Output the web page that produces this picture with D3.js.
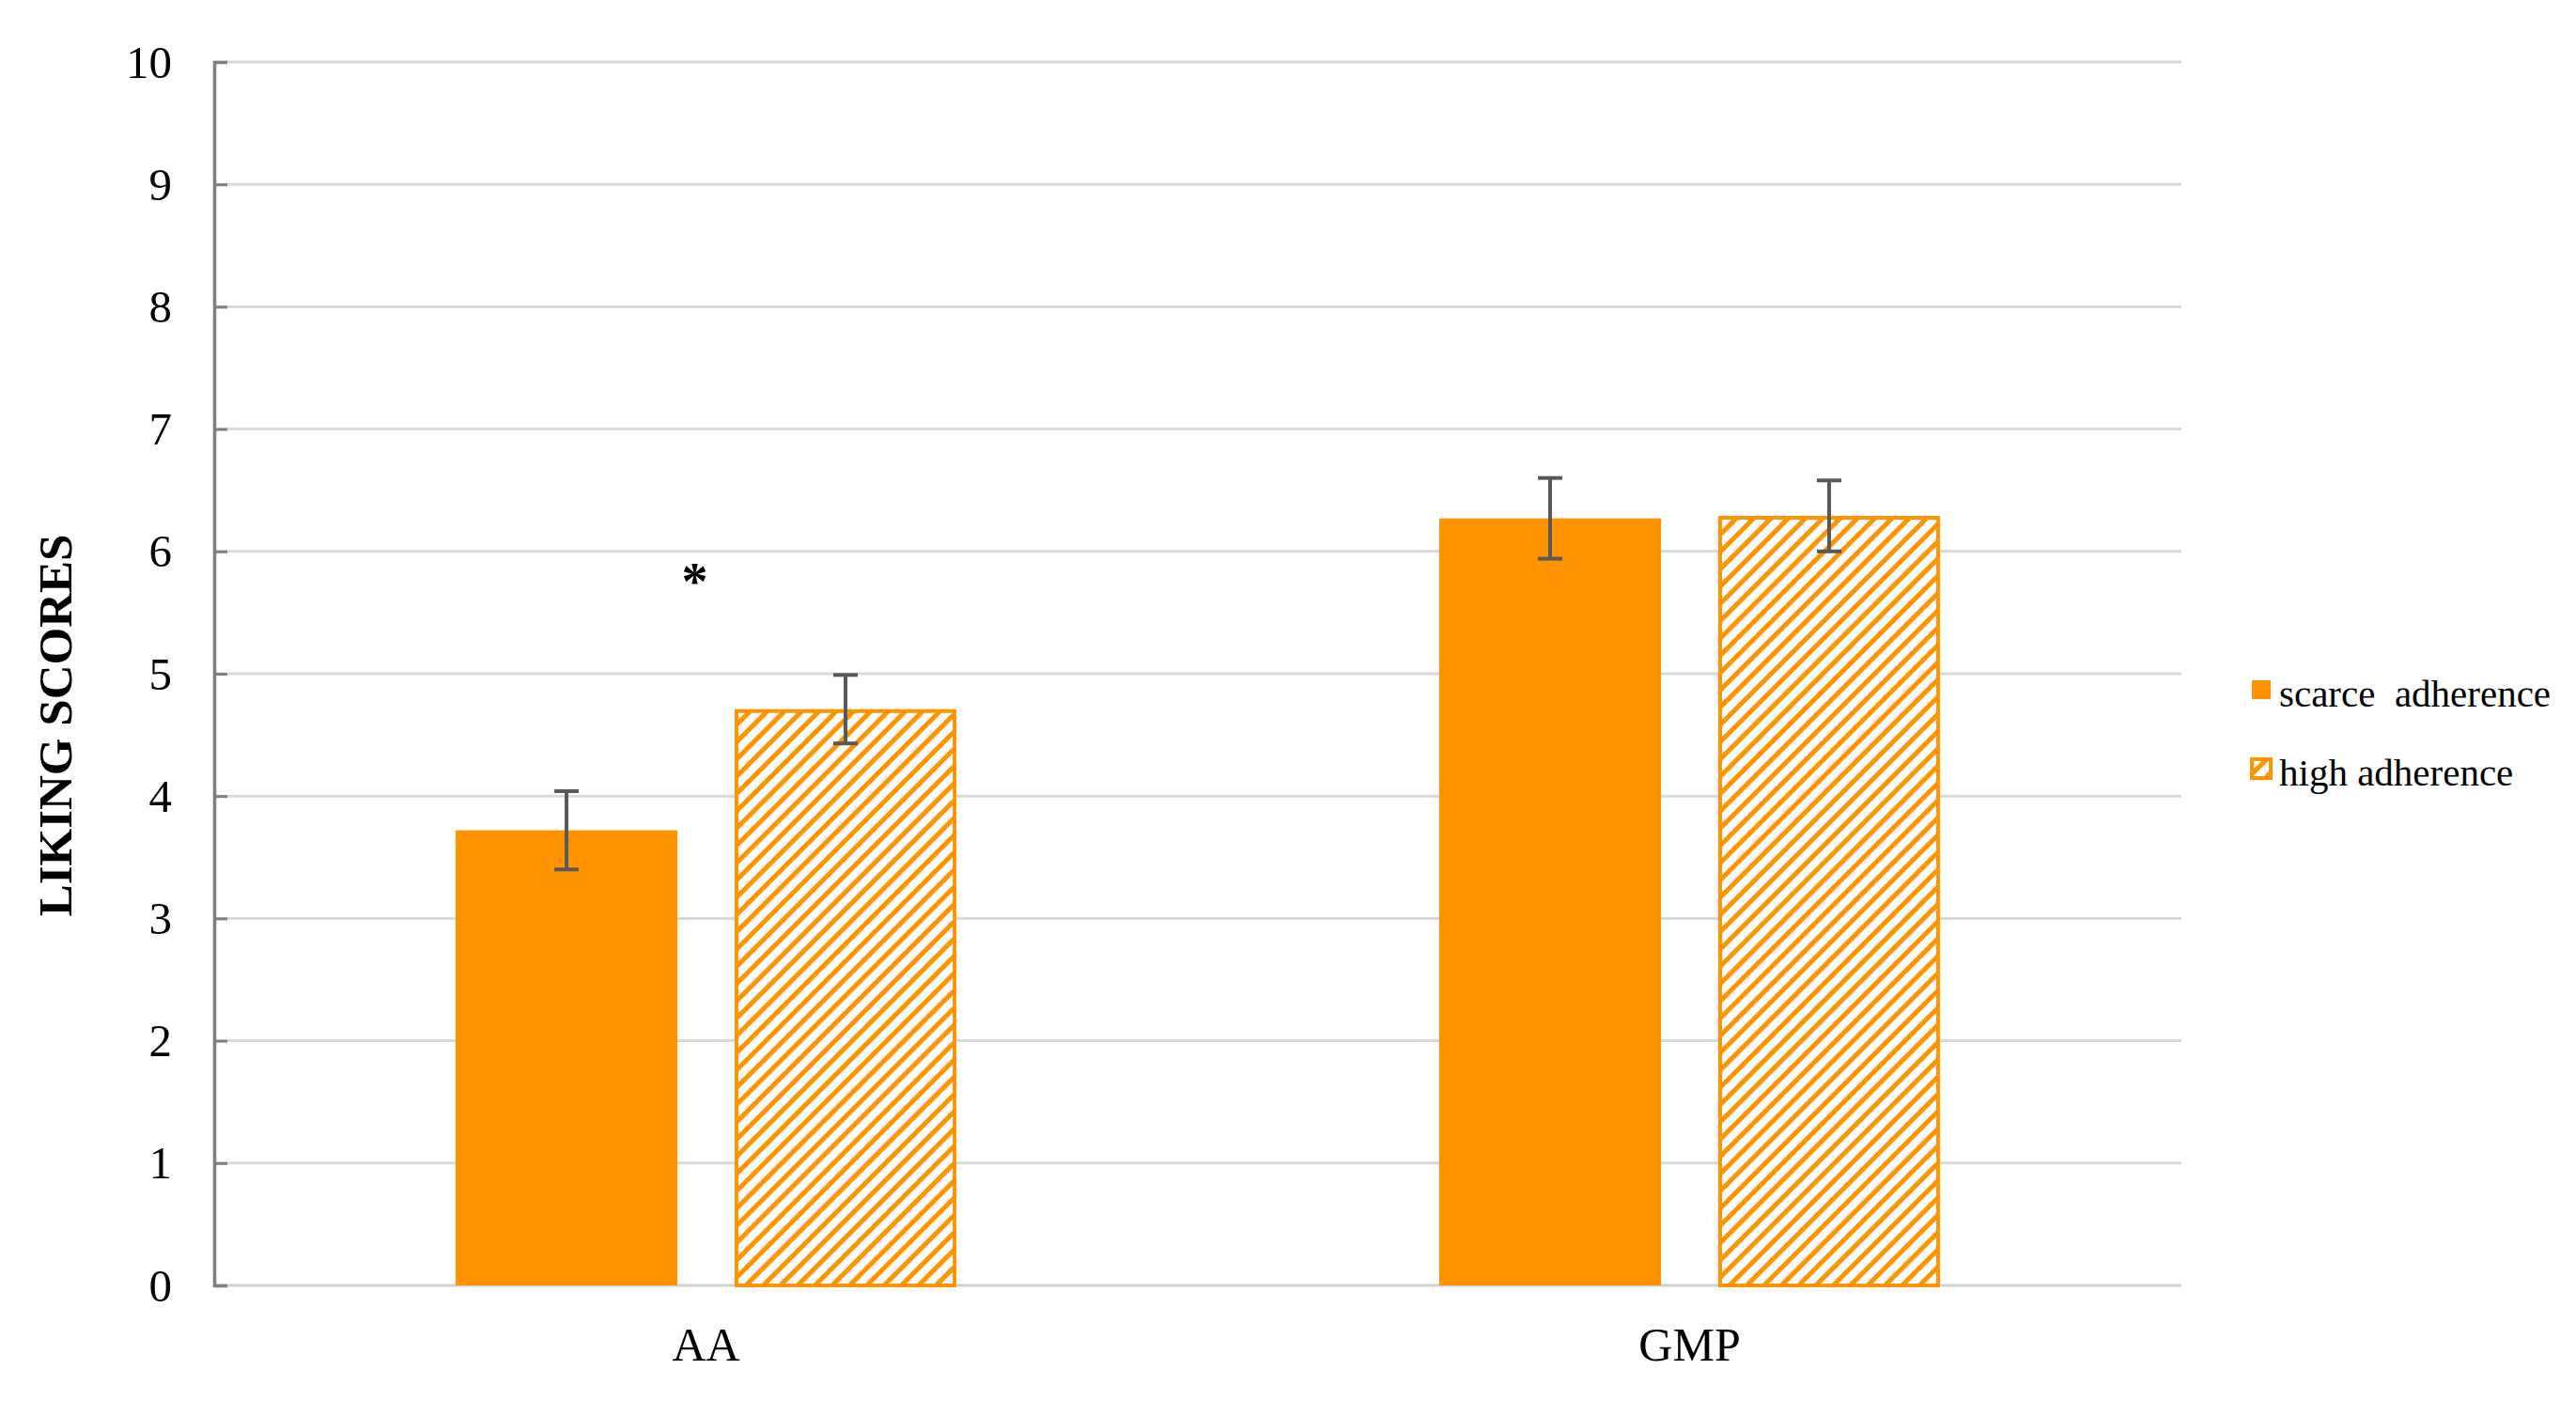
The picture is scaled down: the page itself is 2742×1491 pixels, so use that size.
<!DOCTYPE html>
<html>
<head>
<meta charset="utf-8">
<script src="https://cdn.jsdelivr.net/npm/d3@7"></script>
<style>
  html, body { margin: 0; padding: 0; background: #fff; }
  svg { display: block; }
</style>
</head>
<body>
<svg id="chart" width="2742" height="1491"></svg>
<script>
// ---- data ----
const categories = ["AA", "GMP"];
const seriesNames = ["scarce  adherence", "high adherence"];
const seriesKeys = ["scarce", "high"];
const scarceValues = [3.72, 6.27];
const highValues = [4.71, 6.29];
const scarceErrors = [0.32, 0.33];
const highErrors = [0.28, 0.29];
const yTicks = [0, 1, 2, 3, 4, 5, 6, 7, 8, 9, 10];
const yTitle = "LIKING SCORES";
const significance = ["*", ""];

// ---- layout ----
const W = 2742, H = 1491;
const plot = { left: 228, right: 2322, top: 66, bottom: 1368 };
const orange = "#ff9300";
const serif = "'Liberation Serif', 'Times New Roman', serif";

const svg = d3.select("#chart");

const defs = svg.append("defs");
const pat = defs.append("pattern")
  .attr("id", "hatch")
  .attr("patternUnits", "userSpaceOnUse")
  .attr("width", 13)
  .attr("height", 13)
  .attr("patternTransform", "rotate(45)");
pat.append("rect").attr("width", 13).attr("height", 13).attr("fill", "#fff");
pat.append("rect").attr("x", 0).attr("y", 0).attr("width", 5).attr("height", 13).attr("fill", orange);

const y = d3.scaleLinear().domain([0, 10]).range([plot.bottom, plot.top]);
const x0 = d3.scaleBand().domain(categories).range([plot.left, plot.right]).paddingInner(0).paddingOuter(0);
const x1 = d3.scaleBand().domain(seriesKeys).range([0, x0.bandwidth()]).paddingInner(0.205).paddingOuter(0.865);

// gridlines
svg.append("g").selectAll("line")
  .data(yTicks.filter(d => d > 0))
  .join("line")
  .attr("x1", plot.left).attr("x2", plot.right)
  .attr("y1", d => y(d)).attr("y2", d => y(d))
  .attr("stroke", "#d9d9d9").attr("stroke-width", 3);

// bottom axis line
svg.append("line")
  .attr("x1", plot.left).attr("x2", plot.right)
  .attr("y1", y(0)).attr("y2", y(0))
  .attr("stroke", "#d0d0d0").attr("stroke-width", 3);

// y axis via d3.axisLeft (ticks drawn inward)
const yAxis = d3.axisLeft(y).tickValues(yTicks).tickSize(-14).tickPadding(0).tickFormat(d3.format("d"));
const gy = svg.append("g").attr("transform", `translate(${plot.left},0)`).call(yAxis);
gy.select(".domain").attr("stroke", "#7f7f7f").attr("stroke-width", 3.5);
gy.selectAll(".tick line").attr("stroke", "#7f7f7f").attr("stroke-width", 3);
gy.selectAll(".tick").filter(d => d === 0).select("line").remove();
gy.selectAll(".tick text")
  .attr("x", -45)
  .attr("dy", "0.33em")
  .attr("fill", "#000")
  .style("font-family", serif)
  .style("font-size", "49px");

// bars
const rows = categories.map((c, i) => ({
  cat: c,
  vals: [
    { key: "scarce", v: scarceValues[i], e: scarceErrors[i] },
    { key: "high", v: highValues[i], e: highErrors[i] }
  ]
}));

const groups = svg.append("g").selectAll("g")
  .data(rows).join("g")
  .attr("transform", d => `translate(${x0(d.cat)},0)`);

groups.selectAll("rect")
  .data(d => d.vals).join("rect")
  .attr("x", d => x1(d.key) + (d.key === "high" ? 2 : 0))
  .attr("width", d => x1.bandwidth() - (d.key === "high" ? 4 : 0))
  .attr("y", d => y(d.v) + (d.key === "high" ? 2 : 0))
  .attr("height", d => y(0) - y(d.v) - (d.key === "high" ? 2 : 0))
  .attr("fill", d => d.key === "high" ? "url(#hatch)" : orange)
  .attr("stroke", d => d.key === "high" ? orange : "none")
  .attr("stroke-width", 4);

// error bars
const eb = groups.selectAll("g.err")
  .data(d => d.vals).join("g").attr("class", "err");
const cx = d => x1(d.key) + x1.bandwidth() / 2;
const errColor = "#595959";
eb.append("line")
  .attr("x1", cx).attr("x2", cx)
  .attr("y1", d => y(d.v + d.e)).attr("y2", d => y(d.v - d.e))
  .attr("stroke", errColor).attr("stroke-width", 4);
eb.append("line")
  .attr("x1", d => cx(d) - 13).attr("x2", d => cx(d) + 13)
  .attr("y1", d => y(d.v + d.e)).attr("y2", d => y(d.v + d.e))
  .attr("stroke", errColor).attr("stroke-width", 4);
eb.append("line")
  .attr("x1", d => cx(d) - 13).attr("x2", d => cx(d) + 13)
  .attr("y1", d => y(d.v - d.e)).attr("y2", d => y(d.v - d.e))
  .attr("stroke", errColor).attr("stroke-width", 4);

// significance marker
svg.append("g").selectAll("text")
  .data(categories.map((c, i) => ({ cat: c, s: significance[i], top: Math.max(scarceValues[i] + scarceErrors[i], highValues[i] + highErrors[i]) })))
  .join("text")
  .attr("x", d => x0(d.cat) + x0.bandwidth() / 2 - 12)
  .attr("y", d => y(d.top) - 80)
  .attr("text-anchor", "middle")
  .style("font-family", serif)
  .style("font-size", "56px")
  .style("font-weight", "bold")
  .attr("fill", "#000")
  .text(d => d.s);

// x category labels
svg.append("g").selectAll("text")
  .data(categories).join("text")
  .attr("x", d => x0(d) + x0.bandwidth() / 2)
  .attr("y", 1448)
  .attr("text-anchor", "middle")
  .style("font-family", serif)
  .style("font-size", "50px")
  .attr("fill", "#000")
  .text(d => d);

// y title
svg.append("text")
  .attr("transform", "translate(76,772) rotate(-90)")
  .attr("text-anchor", "middle")
  .style("font-family", serif)
  .style("font-size", "51px")
  .style("font-weight", "bold")
  .attr("fill", "#000")
  .text(yTitle);

// legend
const legend = svg.append("g");
const legY = [734, 818];
seriesKeys.forEach((k, i) => {
  if (k === "scarce") {
    legend.append("rect").attr("x", 2397).attr("y", legY[i] - 10).attr("width", 20).attr("height", 20).attr("fill", orange);
  } else {
    legend.append("rect").attr("x", 2397).attr("y", legY[i] - 10).attr("width", 20).attr("height", 20)
      .attr("fill", "url(#hatch)").attr("stroke", orange).attr("stroke-width", 4);
  }
  legend.append("text")
    .attr("x", 2426).attr("y", legY[i] + 18)
    .style("font-family", serif)
    .style("font-size", "41px")
    .style("white-space", "pre")
    .attr("xml:space", "preserve")
    .attr("fill", "#000")
    .text(seriesNames[i]);
});
</script>
</body>
</html>
